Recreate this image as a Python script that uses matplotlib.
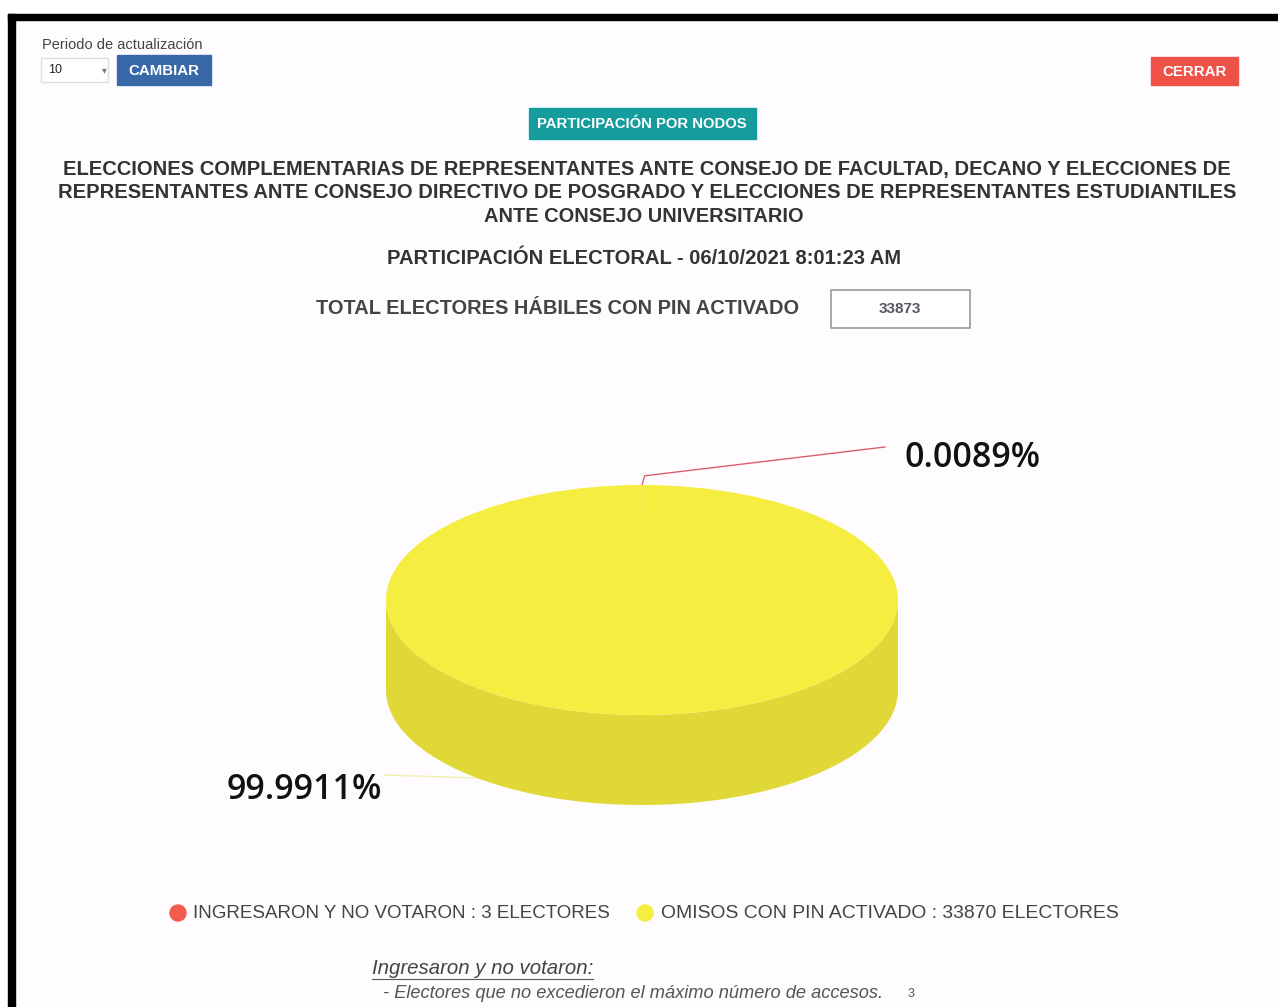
import numpy as np
import matplotlib
matplotlib.use('Agg')
import matplotlib.pyplot as plt
from matplotlib.patches import Rectangle, Polygon, Circle

# ---- data ----
categories = ['INGRESARON Y NO VOTARON', 'OMISOS CON PIN ACTIVADO']
electores = [3, 33870]
total_habiles = 33873
top_colors = ['#f15c4f', '#f5ee40']
side_colors = ['#d84c40', '#e0d836']

title_lines = [
    'ELECCIONES COMPLEMENTARIAS DE REPRESENTANTES ANTE CONSEJO DE FACULTAD, DECANO Y ELECCIONES DE',
    'REPRESENTANTES ANTE CONSEJO DIRECTIVO DE POSGRADO Y ELECCIONES DE REPRESENTANTES ESTUDIANTILES',
    'ANTE CONSEJO UNIVERSITARIO',
]
subtitle = 'PARTICIPACIÓN ELECTORAL - 06/10/2021 8:01:23 AM'

W, H = 1278, 1007
fig = plt.figure(figsize=(W / 100, H / 100), dpi=100)
fig.patch.set_facecolor('white')

# background axes in pixel coords
bg = fig.add_axes([0, 0, 1, 1])
bg.set_xlim(0, W)
bg.set_ylim(H, 0)
bg.axis('off')
bg.add_patch(Rectangle((15, 20), W - 15, H - 20, color='#fefcff', zorder=0))
renderer = fig.canvas.get_renderer()

FONT = 'Liberation Sans'


def fit_text(x0, x1, y, s, size=12, family=FONT, **kw):
    # scale the font so the text spans x0..x1
    t = bg.text(x0, y, s, fontsize=size, va='center', ha='left', family=family, **kw)
    w = t.get_window_extent(renderer).width
    t.set_fontsize(size * (x1 - x0) / w)
    return t


def button(x, y, w, h, color, label, x0, x1):
    bg.add_patch(Rectangle((x, y), w, h, color=color, zorder=2))
    fit_text(x0, x1, y + h / 2 + 1, label, size=9, color='white', weight='bold', zorder=3)


# black frame of the screenshot
bg.add_patch(Rectangle((8, 14), 7, H - 14, color='black', zorder=5))
bg.add_patch(Rectangle((8, 14), W - 8, 6, color='black', zorder=5))

# top controls
fit_text(42, 203, 45, 'Periodo de actualización', size=8, color='#444444')
bg.add_patch(Rectangle((41, 58), 67, 24, facecolor='white', edgecolor='#dddddd', lw=1, zorder=2))
bg.text(48, 70, '10', fontsize=9, va='center', family=FONT, color='#222222', zorder=3)
bg.text(104, 70, '▾', fontsize=7, va='center', ha='center', color='#777777', zorder=3)
button(117, 55, 94, 30, '#3868a8', 'CAMBIAR', 128, 199)
button(1151, 57, 87, 28, '#ee5148', 'CERRAR', 1162, 1226)
button(529, 108, 227, 31, '#159c9c', 'PARTICIPACIÓN POR NODOS', 537, 748)

# titles
title_spans = [(63, 1222), (58, 1227), (484, 802)]
for (x0, x1), ly, s in zip(title_spans, [170, 193, 216], title_lines):
    fit_text(x0, x1, ly, s, size=12, color='#333333', weight='bold')
fit_text(387, 898, 258, subtitle, size=12, color='#333333', weight='bold')
fit_text(316, 797, 308, 'TOTAL ELECTORES HÁBILES CON PIN ACTIVADO', size=12,
         color='#444444', weight='bold')
bg.add_patch(Rectangle((831, 290), 139, 38, facecolor='white', edgecolor='#999999', lw=1.2, zorder=2))
bg.text(900, 309, str(total_habiles), fontsize=11, ha='center', va='center', family=FONT,
        color='#555566', weight='bold', zorder=3)

# ---- 3D pie ----
cx, cy, rx, ry, depth = 642, 600, 256, 115, 90
d = depth / ry
pax = fig.add_axes([(cx - rx) / W, 1 - (cy + ry + depth) / H, 2 * rx / W, (2 * ry + depth) / H])
pax.set_zorder(4)
wedges, _ = pax.pie(electores, colors=top_colors, startangle=90, counterclock=False,
                    radius=1, wedgeprops=dict(linewidth=0))
for w in wedges:
    w.set_zorder(3)
pax.set_aspect('auto')
pax.set_xlim(-1, 1)
pax.set_ylim(-1 - d, 1)
pax.axis('off')

# side walls (front half only)
for w, sc in zip(wedges, side_colors):
    for k in (-360, 0, 360):
        lo = max(w.theta1, 180 + k)
        hi = min(w.theta2, 360 + k)
        if hi > lo:
            t = np.radians(np.linspace(lo, hi, 120))
            top = np.column_stack([np.cos(t), np.sin(t)])
            bot = np.column_stack([np.cos(t[::-1]), np.sin(t[::-1]) - d])
            pax.add_patch(Polygon(np.vstack([top, bot]), closed=True, color=sc, lw=0, zorder=2))

# data labels with connectors
pct = [100 * v / sum(electores) for v in electores]
label_spans = [(905, 1040, 458), (227, 382, 790)]
elbow_end = [(885, 447), (385, 775)]
line_colors = ['#d9606a', '#f2efb0']
to_pie = pax.transData.inverted()
for w, p, (lx0, lx1, ly), (ex, ey), lc in zip(wedges, pct, label_spans, elbow_end, line_colors):
    mid = (w.theta1 + w.theta2) / 2
    if np.sin(np.radians(mid)) > 0:
        px, py = np.cos(np.radians(mid)), np.sin(np.radians(mid))
        elbow = (px + 0.01, py + 0.08)
    else:
        # big slice: connector leaves the lower rim on the left
        a = np.radians(230)
        px, py = np.cos(a), np.sin(a) - d
        elbow = (px, py)
    end = to_pie.transform(bg.transData.transform((ex, ey)))
    pax.plot([px, elbow[0], end[0]], [py, elbow[1], end[1]], color=lc, lw=1,
             clip_on=False, zorder=1)
    fit_text(lx0, lx1, ly, f'{p:.4f}%', size=22, family='Open Sans',
             color='#111111', weight='semibold', zorder=6)

# legend
leg_x = [(178, 193, 610), (645, 661, 1117)]
for (mx, x0, x1), name, n, col in zip(leg_x, categories, electores, top_colors):
    bg.add_patch(Circle((mx, 913), 8, color=col, zorder=3))
    fit_text(x0, x1, 914, f'{name} : {n} ELECTORES', size=12, color='#444444')

# note below
fit_text(372, 593, 969, 'Ingresaron y no votaron:', size=11, color='#444444', style='italic')
bg.plot([372, 593], [979, 979], color='#555555', lw=0.8)
fit_text(383, 885, 994, '- Electores que no excedieron el máximo número de accesos.', size=10,
         color='#555555', style='italic')
bg.text(908, 994, '3', fontsize=9, va='center', family=FONT, color='#555555')

fig.savefig('out.png', dpi=100)
